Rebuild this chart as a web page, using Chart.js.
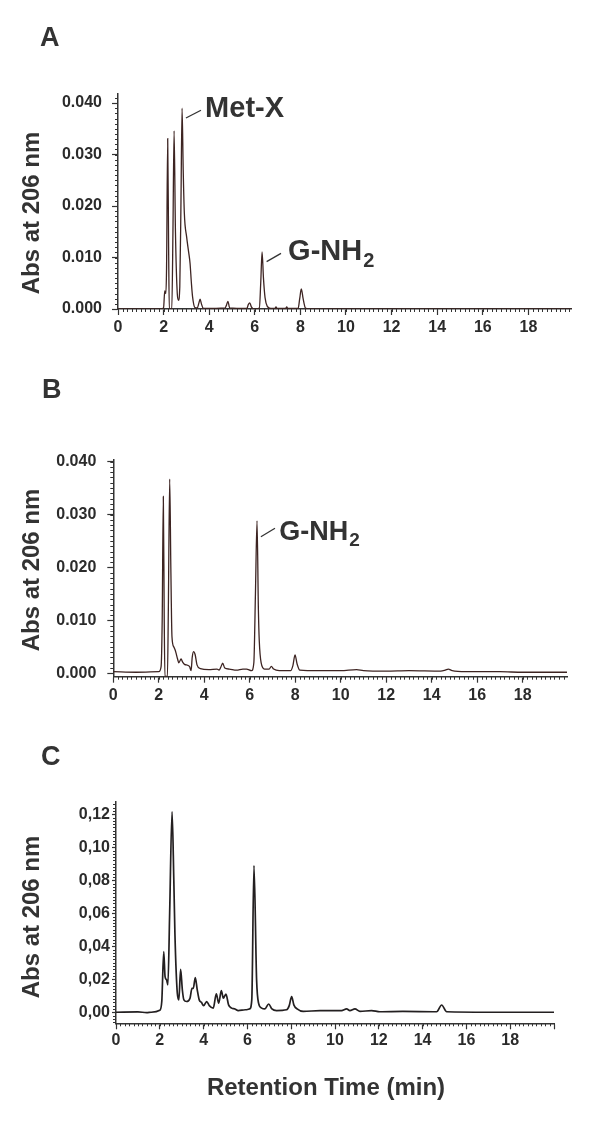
<!DOCTYPE html>
<html>
<head>
<meta charset="utf-8">
<script src="https://cdn.jsdelivr.net/npm/chart.js@4.4.0/dist/chart.umd.min.js"></script>
<style>
  body { margin: 0; background: #fff; }
  #wrap { position: relative; width: 600px; height: 1126px; }
  canvas { position: absolute; left: 0; }
</style>
</head>
<body>
<div id="wrap">
  <canvas id="painelA" width="600" height="345" style="top:0px"></canvas>
  <canvas id="painelB" width="600" height="360" style="top:345px"></canvas>
  <canvas id="painelC" width="600" height="421" style="top:705px"></canvas>
</div>
<script>
// retention time (min) and absorbance
let timeA = [0, 1.9, 2.0, 2.05, 2.1, 2.13, 2.18, 2.22, 2.25, 2.36, 2.41, 2.46, 2.52, 2.6, 2.65, 2.71, 2.76, 2.81, 2.86, 2.91,
  3.01, 3.1, 3.16, 3.22, 3.27, 3.37, 3.48, 3.55, 3.6, 3.66, 3.74, 4.7, 4.76, 4.82, 4.9, 5.65, 5.72, 5.78, 5.85, 5.95,
  6.2, 6.26, 6.32, 6.38, 6.45, 6.55, 6.7, 6.88, 6.93, 6.98, 7.35, 7.4, 7.45, 7.9, 7.97, 8.04, 8.12, 8.22, 8.4, 19.9]
let absA = [0, 0, 0.0003, 0.0035, 0.003, 0.008, 0.0331, 0.012, 0, 0, 0.015, 0.0346, 0.015, 0.003, 0.0017, 0.0043, 0.02, 0.039, 0.027, 0.0186,
  0.014, 0.011, 0.0089, 0.005, 0.0024, 0.0003, 0.0002, 0.0012, 0.0019, 0.001, 0.0001, 0.0002, 0.0008, 0.0015, 0.0002, 0.0001, 0.0009, 0.0012, 0.0004, 0,
  0.0002, 0.005, 0.0111, 0.006, 0.0022, 0.0005, 0.0001, 0.0001, 0.0004, 0.0001, 0.0001, 0.0004, 0.0001, 0.0001, 0.002, 0.0039, 0.002, 0.0002, 0, 0]

let timeB = [0, 1.0, 2.0, 2.1, 2.15, 2.2, 2.24, 2.27, 2.38, 2.42, 2.48, 2.53, 2.58, 2.66, 2.72, 2.76, 2.82, 2.88, 2.98, 3.05,
  3.13, 3.35, 3.42, 3.47, 3.53, 3.6, 3.68, 3.83, 4.2, 4.56, 4.65, 4.73, 4.81, 4.9, 5.1, 5.42, 5.7, 5.86, 6.08, 6.18,
  6.25, 6.32, 6.38, 6.42, 6.5, 6.65, 6.85, 6.95, 7.05, 7.3, 7.8, 7.9, 7.99, 8.08, 8.2, 9, 10, 10.7, 11, 12,
  13, 14.4, 14.6, 14.73, 14.9, 15.5, 17, 18, 19.95]
let absB = [0.0003, 0.0002, 0.0003, 0.0012, 0.01, 0.0334, 0.01, -0.0006, -0.0006, 0.012, 0.0367, 0.02, 0.0069, 0.005, 0.0044, 0.0038, 0.0028, 0.002, 0.0027, 0.0021,
  0.0017, 0.0013, 0.0005, 0.003, 0.0041, 0.0035, 0.0016, 0.0009, 0.0007, 0.0008, 0.0006, 0.0012, 0.0019, 0.001, 0.0008, 0.0006, 0.0008, 0.0008, 0.0005, 0.002,
  0.015, 0.0288, 0.012, 0.006, 0.002, 0.0008, 0.0008, 0.0013, 0.0008, 0.0005, 0.0005, 0.0015, 0.0035, 0.0018, 0.0006, 0.0005, 0.0005, 0.0007, 0.0005, 0.0004,
  0.0005, 0.0004, 0.0006, 0.0008, 0.0005, 0.0003, 0.0003, 0.0002, 0.0002]

let timeC = [0, 1.0, 1.4, 1.6, 2.0, 2.09, 2.18, 2.24, 2.31, 2.37, 2.45, 2.56, 2.64, 2.69, 2.8, 2.87, 2.95, 3.03, 3.1, 3.22,
  3.38, 3.47, 3.53, 3.62, 3.71, 3.8, 3.9, 4.0, 4.14, 4.26, 4.44, 4.58, 4.69, 4.81, 4.9, 5.02, 5.14, 5.28, 5.43, 5.58,
  5.9, 6.1, 6.2, 6.3, 6.42, 6.51, 6.65, 6.8, 6.97, 7.12, 7.33, 7.79, 7.91, 8.02, 8.12, 8.27, 8.55, 9.32, 10.3, 10.53,
  10.68, 10.91, 11.14, 11.67, 12.05, 13.1, 14.64, 14.87, 15.1, 17, 20]
let absC = [0, 0.0002, -0.0002, 0, 0.0012, 0.0065, 0.0367, 0.0216, 0.0196, 0.0166, 0.06, 0.1216, 0.08, 0.0479, 0.0115, 0.0075, 0.026, 0.0135, 0.0075, 0.0065,
  0.0085, 0.0145, 0.0145, 0.021, 0.0136, 0.0075, 0.006, 0.004, 0.0065, 0.004, 0.0025, 0.0111, 0.0055, 0.0131, 0.0085, 0.011, 0.0045, 0.0025, 0.002, 0.001,
  0.0015, 0.002, 0.0075, 0.0889, 0.0196, 0.0055, 0.0025, 0.002, 0.005, 0.002, 0.001, 0.0015, 0.004, 0.0095, 0.0045, 0.002, 0.0005, 0.001, 0.001, 0.002,
  0.001, 0.002, 0.0005, 0.001, 0.0003, 0.0005, 0.0003, 0.0044, 0.0003, 0, 0]

let xLabels = ['0', '2', '4', '6', '8', '10', '12', '14', '16', '18']
let yLabelsAB = ['0.000', '0.010', '0.020', '0.030', '0.040']
let yLabelsC = ['0,00', '0,02', '0,04', '0,06', '0,08', '0,10', '0,12']

let fonte = "'Liberation Sans', Arial, sans-serif"
let cinza = '#333333'

let extras = {
  id: 'extras',
  afterDraw(chart, args, cfg) {
    let ctx = chart.ctx
    let sx = chart.scales.x
    let sy = chart.scales.y
    let area = chart.chartArea
    ctx.save()
    ctx.strokeStyle = cinza
    ctx.lineWidth = 1

    // minor ticks
    ctx.beginPath()
    for (let i = 0; i <= Math.floor(sx.max / cfg.xMinor + 1e-6); i++) {
      let px = Math.round(sx.getPixelForValue(i * cfg.xMinor)) + 0.5
      ctx.moveTo(px, area.bottom)
      ctx.lineTo(px, area.bottom + 3)
    }
    for (let i = Math.ceil(sy.min / cfg.yMinor - 1e-6); i <= Math.floor(sy.max / cfg.yMinor + 1e-6); i++) {
      let py = Math.round(sy.getPixelForValue(i * cfg.yMinor)) + 0.5
      ctx.moveTo(area.left - 3, py)
      ctx.lineTo(area.left, py)
    }
    ctx.stroke()

    ctx.fillStyle = cinza
    ctx.textBaseline = 'alphabetic'

    // panel letter
    ctx.font = 'bold 27px ' + fonte
    ctx.textAlign = 'left'
    ctx.fillText(cfg.letra.text, cfg.letra.x, cfg.letra.y)

    // y title
    ctx.save()
    ctx.translate(cfg.yTitle.x, cfg.yTitle.y)
    ctx.rotate(-Math.PI / 2)
    ctx.font = 'bold 24px ' + fonte
    ctx.textAlign = 'center'
    ctx.fillText('Abs at 206 nm', 0, 0)
    ctx.restore()

    if (cfg.xTitle) {
      ctx.font = 'bold 24px ' + fonte
      ctx.textAlign = 'center'
      ctx.fillText(cfg.xTitle.text, cfg.xTitle.x, cfg.xTitle.y)
    }

    // peak labels with leader lines
    for (let a of cfg.anotacoes) {
      ctx.lineWidth = 1.3
      ctx.beginPath()
      ctx.moveTo(sx.getPixelForValue(a.line[0]), sy.getPixelForValue(a.line[1]))
      ctx.lineTo(sx.getPixelForValue(a.line[2]), sy.getPixelForValue(a.line[3]))
      ctx.stroke()
      let tx = sx.getPixelForValue(a.at[0])
      let ty = sy.getPixelForValue(a.at[1])
      ctx.textAlign = 'left'
      ctx.font = 'bold ' + a.size + 'px ' + fonte
      ctx.fillText(a.text, tx, ty)
      if (a.sub) {
        let w = ctx.measureText(a.text).width
        ctx.font = 'bold ' + Math.round(a.size * 0.7) + 'px ' + fonte
        ctx.fillText(a.sub, tx + w + 1, ty + a.size * 0.24)
      }
    }
    ctx.restore()
  }
}

function painel(id, tempo, valores, p) {
  let ctx = document.getElementById(id).getContext('2d')
  let altura = document.getElementById(id).height
  return new Chart(ctx, {
    type: 'line',
    data: {
      datasets: [{
        data: tempo.map((t, i) => ({ x: t, y: valores[i] })),
        borderColor: p.cor,
        borderWidth: p.espessura,
        pointRadius: 0,
        fill: false,
        cubicInterpolationMode: 'monotone'
      }]
    },
    options: {
      responsive: false,
      devicePixelRatio: 1,
      animation: false,
      events: [],
      layout: {
        padding: { left: 0, top: p.top, right: 600 - p.right, bottom: altura - p.bottom - 28 }
      },
      plugins: {
        legend: { display: false },
        tooltip: { enabled: false },
        extras: p.extras
      },
      scales: {
        x: {
          type: 'linear',
          min: 0,
          max: p.xMax,
          afterFit: (s) => { s.height = 28 },
          border: { display: true, color: cinza, width: 1.5 },
          grid: { display: true, drawOnChartArea: false, drawTicks: true, tickLength: 6, tickColor: cinza, tickWidth: 1.2 },
          ticks: {
            stepSize: 2,
            includeBounds: false,
            autoSkip: false,
            maxRotation: 0,
            padding: p.xPad,
            color: '#2b2b2b',
            font: { family: fonte, weight: 'bold', size: 16 },
            callback: (v) => xLabels[Math.round(v / 2)] ?? ''
          }
        },
        y: {
          min: p.yMin,
          max: p.yMax,
          afterFit: (s) => { s.width = p.left },
          border: { display: true, color: cinza, width: 1.5 },
          grid: { display: true, drawOnChartArea: false, drawTicks: true, tickLength: p.yTick, tickColor: cinza, tickWidth: 1.2 },
          ticks: {
            stepSize: p.yStep,
            includeBounds: false,
            autoSkip: false,
            padding: p.yPad,
            color: '#2b2b2b',
            font: { family: fonte, weight: 'bold', size: 16 },
            callback: (v) => p.yLabels[Math.round(v / p.yStep)] ?? ''
          }
        }
      }
    },
    plugins: [extras]
  })
}

painel('painelA', timeA, absA, {
  cor: '#3d2422', espessura: 1.3, left: 118, right: 571.7, top: 93.3, bottom: 309,
  xMax: 19.9, yMin: 0, yMax: 0.0419, yStep: 0.01, yLabels: yLabelsAB, yTick: 6, yPad: 10, xPad: 3,
  extras: {
    xMinor: 0.2, yMinor: 0.001,
    letra: { text: 'A', x: 40, y: 46 },
    yTitle: { x: 39, y: 213 },
    anotacoes: [
      { text: 'Met-X', sub: '', line: [2.98, 0.0371, 3.64, 0.0386], at: [3.82, 0.0373], size: 29 },
      { text: 'G-NH', sub: '2', line: [6.52, 0.0092, 7.15, 0.0108], at: [7.46, 0.0095], size: 29 }
    ]
  }
})

painel('painelB', timeB, absB, {
  cor: '#3d2422', espessura: 1.3, left: 113.3, right: 567, top: 115, bottom: 331.7,
  xMax: 19.95, yMin: -0.00064, yMax: 0.0403, yStep: 0.01, yLabels: yLabelsAB, yTick: 6, yPad: 11, xPad: 3,
  extras: {
    xMinor: 0.2, yMinor: 0.001,
    letra: { text: 'B', x: 42, y: 53 },
    yTitle: { x: 39, y: 225 },
    anotacoes: [
      { text: 'G-NH', sub: '2', line: [6.49, 0.0258, 7.11, 0.0274], at: [7.30, 0.0252], size: 27 }
    ]
  }
})

painel('painelC', timeC, absC, {
  cor: '#231f20', espessura: 1.7, left: 116, right: 554, top: 96.7, bottom: 318.3,
  xMax: 20, yMin: -0.0067, yMax: 0.1276, yStep: 0.02, yLabels: yLabelsC, yTick: 4, yPad: 2, xPad: 2,
  extras: {
    xMinor: 0.2, yMinor: 0.002,
    letra: { text: 'C', x: 41, y: 60 },
    yTitle: { x: 39, y: 212 },
    xTitle: { text: 'Retention Time (min)', x: 326, y: 390 },
    anotacoes: []
  }
})
</script>
</body>
</html>
